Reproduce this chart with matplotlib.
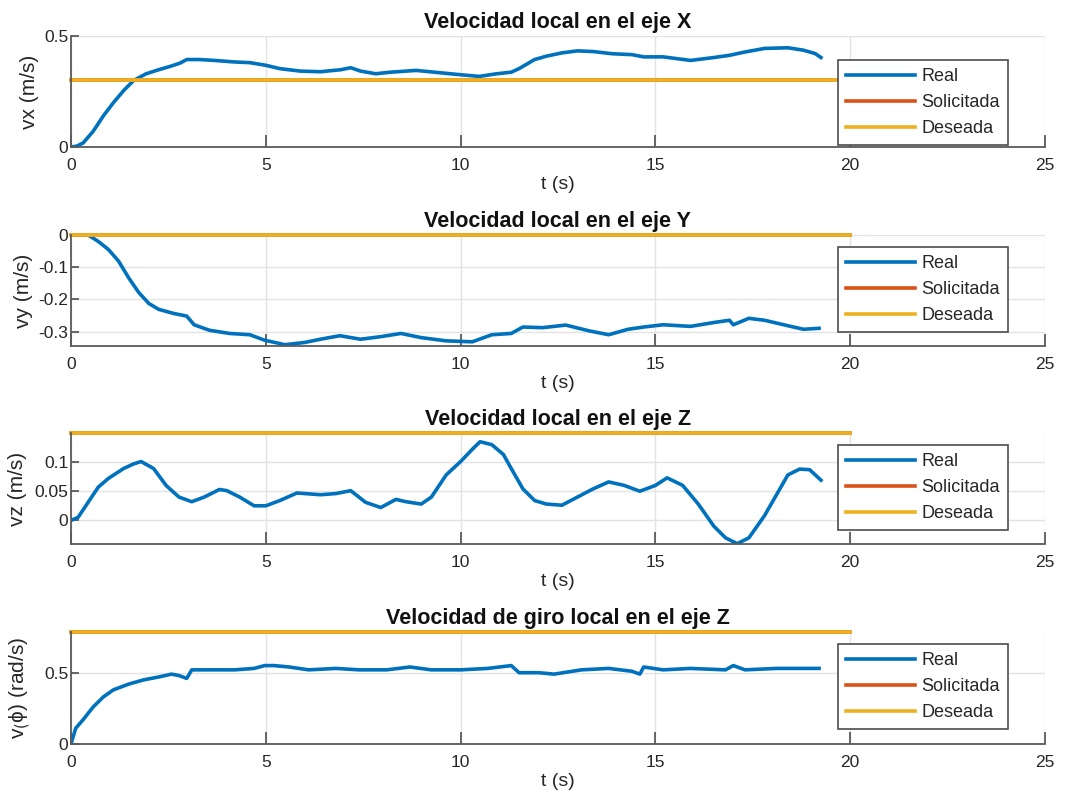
import numpy as np
import matplotlib
matplotlib.use("Agg")
import matplotlib.pyplot as plt

plt.rcParams['font.family'] = ['Liberation Sans', 'DejaVu Sans']
plt.rcParams['axes.unicode_minus'] = False

# ---- data -----------------------------------------------------------------
t_vx = [0, 0.15, 0.31, 0.57, 0.83, 1.09, 1.35, 1.61, 1.93, 2.25, 2.58, 2.8,
        2.97, 3.29, 3.68, 4.2, 4.59, 5.0, 5.36, 5.88, 6.4, 6.92, 7.18, 7.43,
        7.82, 8.2, 8.86, 9.38, 10.03, 10.48, 10.93, 11.3, 11.5, 11.9, 12.2,
        12.6, 13.0, 13.4, 13.9, 14.4, 14.7, 15.2, 15.9, 16.5, 16.9, 17.3,
        17.8, 18.4, 18.8, 19.1, 19.25]
vx_real = [0, 0.004, 0.018, 0.071, 0.14, 0.2, 0.254, 0.3, 0.33, 0.348, 0.365,
           0.378, 0.394, 0.394, 0.39, 0.383, 0.38, 0.368, 0.353, 0.342, 0.339,
           0.348, 0.357, 0.342, 0.33, 0.337, 0.345, 0.336, 0.325, 0.318,
           0.33, 0.337, 0.353, 0.394, 0.409, 0.424, 0.433, 0.43, 0.42, 0.416,
           0.406, 0.406, 0.39, 0.403, 0.413, 0.428, 0.444, 0.447, 0.436,
           0.421, 0.403]

t_vy = [0, 0.44, 0.7, 0.96, 1.22, 1.48, 1.74, 2.0, 2.25, 2.64, 2.97, 3.16,
        3.55, 4.07, 4.59, 4.97, 5.49, 6.0, 6.4, 6.9, 7.43, 7.95, 8.47, 8.99,
        9.63, 10.3, 10.8, 11.3, 11.6, 12.1, 12.7, 13.3, 13.8, 14.3, 14.7,
        15.2, 15.9, 16.5, 16.9, 17.0, 17.4, 17.8, 18.4, 18.8, 19.2]
vy_real = [0, 0, -0.02, -0.045, -0.081, -0.133, -0.179, -0.213, -0.231,
           -0.244, -0.252, -0.279, -0.296, -0.306, -0.31, -0.327, -0.341,
           -0.334, -0.324, -0.313, -0.324, -0.316, -0.306, -0.319, -0.329,
           -0.332, -0.31, -0.306, -0.286, -0.288, -0.28, -0.298, -0.31,
           -0.293, -0.286, -0.279, -0.284, -0.272, -0.265, -0.279, -0.259,
           -0.265, -0.282, -0.293, -0.29]

t_vz = [0, 0.18, 0.44, 0.7, 0.96, 1.35, 1.61, 1.8, 2.12, 2.44, 2.77, 3.1,
        3.42, 3.81, 4.0, 4.33, 4.7, 5.0, 5.36, 5.8, 6.4, 6.8, 7.18, 7.56,
        7.95, 8.34, 8.6, 8.99, 9.25, 9.63, 10.0, 10.3, 10.5, 10.8, 11.1,
        11.3, 11.6, 11.9, 12.2, 12.6, 13.0, 13.4, 13.8, 14.2, 14.6, 15.0,
        15.3, 15.7, 16.1, 16.5, 16.8, 17.1, 17.4, 17.8, 18.1, 18.4, 18.7,
        18.96, 19.25]
vz_real = [0, 0.005, 0.031, 0.057, 0.072, 0.089, 0.097, 0.101, 0.089, 0.06,
           0.04, 0.032, 0.04, 0.053, 0.051, 0.04, 0.025, 0.025, 0.034, 0.047,
           0.044, 0.046, 0.051, 0.031, 0.022, 0.036, 0.032, 0.028, 0.04,
           0.078, 0.101, 0.122, 0.135, 0.13, 0.113, 0.089, 0.054, 0.034,
           0.028, 0.026, 0.04, 0.054, 0.066, 0.06, 0.05, 0.06, 0.073, 0.06,
           0.028, -0.01, -0.03, -0.04, -0.03, 0.008, 0.043, 0.078, 0.088,
           0.087, 0.069]

t_w = [0, 0.12, 0.31, 0.57, 0.83, 1.09, 1.48, 1.87, 2.25, 2.58, 2.77, 2.97,
       3.1, 3.55, 4.2, 4.7, 4.97, 5.2, 5.6, 6.1, 6.8, 7.4, 8.1, 8.7, 9.25,
       10.0, 10.7, 11.3, 11.5, 12.0, 12.4, 13.1, 13.8, 14.4, 14.6, 14.7,
       15.2, 15.9, 16.8, 17.0, 17.3, 18.1, 19.2]
w_real = [0, 0.11, 0.17, 0.26, 0.33, 0.38, 0.42, 0.45, 0.47, 0.49, 0.48, 0.46,
          0.52, 0.52, 0.52, 0.53, 0.55, 0.55, 0.54, 0.52, 0.53, 0.52, 0.52,
          0.54, 0.52, 0.52, 0.53, 0.55, 0.50, 0.50, 0.49, 0.52, 0.53, 0.51,
          0.49, 0.54, 0.52, 0.53, 0.52, 0.55, 0.52, 0.53, 0.53]

t_ref = [0, 20]
vx_ref = 0.3
vy_ref = 0.0
vz_ref = 0.15
w_ref = np.pi / 4

titles = ["Velocidad local en el eje X", "Velocidad local en el eje Y",
          "Velocidad local en el eje Z", "Velocidad de giro local en el eje Z"]
ylabels = ["vx (m/s)", "vy (m/s)", "vz (m/s)", "v$_($ϕ) (rad/s)"]
yticks = [[0, 0.5], [-0.3, -0.2, -0.1, 0], [0, 0.05, 0.1], [0, 0.5]]
yticklabels = [["0", "0.5"], ["-0.3", "-0.2", "-0.1", "0"],
               ["0", "0.05", "0.1"], ["0", "0.5"]]
ylims = [(0, 0.5), (-0.345, 0), (-0.0406, 0.15), (0, w_ref)]
xticks = [0, 5, 10, 15, 20, 25]
legend_labels = ["Real", "Solicitada", "Deseada"]

series = [(t_vx, vx_real, vx_ref), (t_vy, vy_real, vy_ref),
          (t_vz, vz_real, vz_ref), (t_w, w_real, w_ref)]

C_REAL = "#0072BD"
C_SOL = "#D95319"
C_DES = "#EDB120"
AX_COL = "#5a5a5a"
TXT = "#262626"

W, H = 1077, 801
fig = plt.figure(figsize=(W / 100, H / 100), dpi=100)
fig.patch.set_facecolor("white")

# axes boxes in pixels: (left, top, right, bottom)
boxes = [(71, 36, 1045, 147), (71, 235, 1045, 346),
         (71, 433, 1045, 544), (71, 632, 1045, 744)]
legend_tops = [0.784, 0.892, 0.892, 0.892]
ylabel_x = [-0.033, -0.039, -0.045, -0.039]

for i, (box, (t, y, ref)) in enumerate(zip(boxes, series)):
    l, tp, r, b = box
    ax = fig.add_axes([l / W, 1 - b / H, (r - l) / W, (b - tp) / H])
    ln_r, = ax.plot(t, y, color=C_REAL, lw=2.6, solid_joinstyle='round')
    ln_s, = ax.plot(t_ref, [ref, ref], color=C_SOL, lw=2.6, clip_on=False)
    ln_d, = ax.plot(t_ref, [ref, ref], color=C_DES, lw=2.6, clip_on=False)
    ax.set_xlim(0, 25)
    ax.set_ylim(*ylims[i])
    ax.set_xticks(xticks)
    ax.set_xticklabels([str(v) for v in xticks])
    ax.set_yticks(yticks[i])
    ax.set_yticklabels(yticklabels[i])
    ax.grid(True, color="#e3e3e3", lw=1.0)
    ax.set_axisbelow(True)
    for s in ("top", "right"):
        ax.spines[s].set_visible(False)
    for s in ("left", "bottom"):
        ax.spines[s].set_color(AX_COL)
        ax.spines[s].set_linewidth(1.3)
    ax.tick_params(axis="x", direction="in", length=9, width=1.3,
                   color=AX_COL, labelcolor=TXT, labelsize=12.5, pad=8)
    ax.tick_params(axis="y", direction="in", length=6, width=1.3,
                   color=AX_COL, labelcolor=TXT, labelsize=12.5, pad=2)
    ax.set_title(titles[i], fontsize=15.5, fontweight="bold", color="#111111",
                 pad=6)
    ax.set_xlabel("t (s)", fontsize=14, color=TXT, labelpad=2)
    ax.set_ylabel(ylabels[i], fontsize=15, color=TXT)
    ax.yaxis.set_label_coords(ylabel_x[i], 0.5)
    leg = ax.legend([ln_r, ln_s, ln_d], legend_labels, loc="upper left",
                    bbox_to_anchor=(0.7875, legend_tops[i]),
                    borderaxespad=0, fontsize=13, handlelength=3.8,
                    handletextpad=0.35, labelspacing=0.5, borderpad=0.45,
                    fancybox=False, framealpha=1, edgecolor="#4d4d4d")
    leg.get_frame().set_linewidth(1.2)
    for txt in leg.get_texts():
        txt.set_color(TXT)

fig.savefig("out.png", dpi=100, facecolor="white")
